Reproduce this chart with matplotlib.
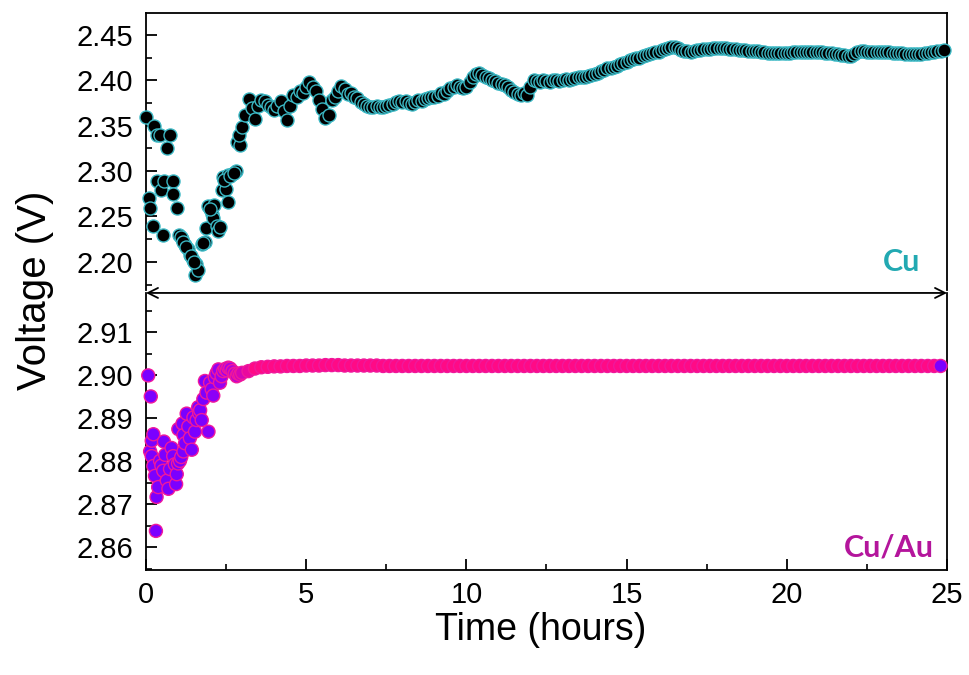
import numpy as np
import matplotlib
matplotlib.use("Agg")
import matplotlib.pyplot as plt
from matplotlib.colors import LinearSegmentedColormap
from matplotlib.ticker import MultipleLocator

# ---- Cu data (hours, volts) ----
# scattered start, read point by point
cu_t_early = [0.00, 0.10, 0.14, 0.21, 0.25, 0.33, 0.33, 0.44, 0.46, 0.52,
              0.56, 0.67, 0.75, 0.85, 0.85, 0.96, 1.04, 1.11, 1.22, 1.30,
              1.37, 1.46, 1.53, 1.56, 1.63, 1.74, 1.84, 1.87, 1.95, 2.05,
              2.10, 2.12, 2.21, 2.26, 2.36, 2.39, 2.50, 2.57, 2.57, 2.67,
              2.81, 2.83, 2.94, 1.08, 1.16, 1.26, 1.41, 1.50, 1.79, 2.00,
              2.30, 2.45, 2.62, 2.75, 2.89]
cu_v_early = [2.359, 2.270, 2.259, 2.240, 2.350, 2.340, 2.289, 2.340, 2.279, 2.230,
              2.289, 2.325, 2.340, 2.289, 2.275, 2.259, 2.230, 2.225, 2.219, 2.214,
              2.208, 2.202, 2.185, 2.198, 2.191, 2.220, 2.222, 2.237, 2.262, 2.253,
              2.248, 2.263, 2.240, 2.234, 2.279, 2.293, 2.280, 2.266, 2.296, 2.297,
              2.300, 2.332, 2.329, 2.227, 2.222, 2.216, 2.206, 2.200, 2.221, 2.258,
              2.238, 2.290, 2.294, 2.298, 2.340]
# from 3.0 h on, one reading every 0.1 h
cu_t0, cu_dt = 3.0, 0.1
cu_v_late = [
    2.349, 2.362, 2.379, 2.369, 2.357, 2.372, 2.378, 2.377, 2.373, 2.370,
    2.367, 2.372, 2.377, 2.366, 2.356, 2.372, 2.384, 2.382, 2.388, 2.386,
    2.392, 2.398, 2.393, 2.388, 2.378, 2.368, 2.358, 2.362, 2.378, 2.382,
    2.388, 2.394, 2.390, 2.385, 2.386, 2.382, 2.380, 2.376, 2.374, 2.372,
    2.371, 2.370, 2.372, 2.371, 2.370, 2.372, 2.373, 2.374, 2.376, 2.377,
    2.376, 2.377, 2.375, 2.374, 2.376, 2.378, 2.377, 2.379, 2.380, 2.382,
    2.381, 2.383, 2.386, 2.385, 2.388, 2.391, 2.393, 2.395, 2.393, 2.391,
    2.393, 2.398, 2.403, 2.407, 2.408, 2.406, 2.404, 2.402, 2.400, 2.399,
    2.397, 2.396, 2.395, 2.392, 2.389, 2.387, 2.385, 2.384, 2.386, 2.384,
    2.392, 2.400, 2.399, 2.398, 2.400, 2.399, 2.398, 2.400, 2.400, 2.399,
    2.400, 2.401, 2.400, 2.401, 2.402, 2.403, 2.404, 2.404, 2.405, 2.406,
    2.407, 2.408, 2.410, 2.411, 2.413, 2.414, 2.415, 2.416, 2.418, 2.419,
    2.420, 2.422, 2.423, 2.424, 2.425, 2.427, 2.428, 2.429, 2.430, 2.431,
    2.431, 2.433, 2.434, 2.436, 2.437, 2.437, 2.435, 2.433, 2.432, 2.432,
    2.431, 2.432, 2.433, 2.433, 2.434, 2.434, 2.434, 2.435, 2.435, 2.435,
    2.435, 2.435, 2.434, 2.434, 2.434, 2.433, 2.433, 2.433, 2.432, 2.432,
    2.432, 2.432, 2.431, 2.431, 2.430, 2.430, 2.430, 2.430, 2.430, 2.430,
    2.430, 2.430, 2.431, 2.431, 2.431, 2.431, 2.431, 2.431, 2.431, 2.431,
    2.431, 2.431, 2.430, 2.430, 2.430, 2.429, 2.429, 2.428, 2.428, 2.427,
    2.427, 2.429, 2.431, 2.432, 2.432, 2.431, 2.431, 2.431, 2.431, 2.431,
    2.431, 2.431, 2.431, 2.430, 2.430, 2.430, 2.430, 2.429, 2.429, 2.429,
    2.429, 2.429, 2.429, 2.430, 2.430, 2.431, 2.431, 2.432, 2.432, 2.433,
]

# ---- Cu/Au data ----
cuau_t_early = [0.07, 0.15, 0.23, 0.18, 0.13, 0.18, 0.23, 0.28, 0.38, 0.33,
                0.31, 0.56, 0.44, 0.54, 0.65, 0.70, 0.80, 0.85, 0.90, 0.96,
                0.94, 1.06, 1.17, 1.01, 1.17, 1.14, 1.27, 1.32, 1.37, 1.43,
                1.53, 1.58, 1.63, 1.69, 1.74, 1.79, 1.84, 1.89, 1.95, 2.00,
                2.05, 2.10, 2.15, 2.26, 2.31, 2.36, 2.41, 2.57, 2.83, 2.94,
                0.48, 0.60, 0.75, 1.00, 1.10, 1.22, 1.48, 1.66, 2.20, 2.47,
                2.52, 2.63, 2.70, 2.77, 2.88]
cuau_v_early = [2.9000, 2.8951, 2.8863, 2.8848, 2.8823, 2.8812, 2.8789, 2.8766, 2.8740, 2.8717,
                2.8638, 2.8846, 2.8801, 2.8778, 2.8755, 2.8736, 2.8831, 2.8812, 2.8793, 2.8770,
                2.8747, 2.8801, 2.8823, 2.8875, 2.8861, 2.8888, 2.8911, 2.8881, 2.8854, 2.8827,
                2.8869, 2.8896, 2.8926, 2.8919, 2.8896, 2.8945, 2.8987, 2.8960, 2.8869, 2.8983,
                2.8968, 2.8953, 2.8995, 2.9014, 2.8983, 2.8998, 2.9010, 2.9018, 2.8998, 2.9002,
                2.8790, 2.8815, 2.8782, 2.8795, 2.8810, 2.8842, 2.8902, 2.8912, 2.9005, 2.9015,
                2.9012, 2.9016, 2.9010, 2.9004, 2.9004]
cuau_t0, cuau_dt = 3.0, 0.2
cuau_v_late = [
    2.9006, 2.9010, 2.9016, 2.9019, 2.9020, 2.9021, 2.9021, 2.9022, 2.9022, 2.9022,
    2.9023, 2.9023, 2.9023, 2.9024, 2.9024, 2.9024, 2.9023, 2.9023, 2.9023, 2.9023,
    2.9023, 2.9023, 2.9022, 2.9022, 2.9022, 2.9022, 2.9022, 2.9022, 2.9022, 2.9022,
    2.9022, 2.9022, 2.9022, 2.9022, 2.9022, 2.9022, 2.9022, 2.9022, 2.9022, 2.9022,
    2.9022, 2.9022, 2.9022, 2.9022, 2.9022, 2.9022, 2.9022, 2.9022, 2.9022, 2.9022,
    2.9022, 2.9022, 2.9022, 2.9022, 2.9022, 2.9022, 2.9022, 2.9022, 2.9022, 2.9022,
    2.9022, 2.9022, 2.9022, 2.9022, 2.9022, 2.9022, 2.9022, 2.9022, 2.9022, 2.9022,
    2.9022, 2.9022, 2.9022, 2.9022, 2.9022, 2.9022, 2.9022, 2.9022, 2.9022, 2.9022,
    2.9022, 2.9022, 2.9022, 2.9022, 2.9022, 2.9022, 2.9022, 2.9022, 2.9022, 2.9022,
    2.9022, 2.9022, 2.9022, 2.9022, 2.9022, 2.9022, 2.9022, 2.9022, 2.9022, 2.9022,
    2.9022, 2.9022, 2.9022, 2.9022, 2.9022, 2.9022, 2.9022, 2.9022, 2.9022, 2.9022,
]

x_ticks = [0, 5, 10, 15, 20, 25]
cu_yticks = [2.20, 2.25, 2.30, 2.35, 2.40, 2.45]
cuau_yticks = [2.86, 2.87, 2.88, 2.89, 2.90, 2.91]

# combine
cu_t = np.concatenate([cu_t_early, cu_t0 + cu_dt * np.arange(len(cu_v_late))])
cu_v = np.concatenate([cu_v_early, cu_v_late])
cuau_t = np.concatenate([cuau_t_early, cuau_t0 + cuau_dt * np.arange(len(cuau_v_late))])
cuau_v = np.concatenate([cuau_v_early, cuau_v_late])

plt.rcParams['font.family'] = ['Liberation Sans', 'DejaVu Sans']

fig = plt.figure(figsize=(9.7, 6.75), dpi=100)
ax1 = fig.add_axes([0.1505, 0.5704, 0.8258, 0.4103])
ax2 = fig.add_axes([0.1505, 0.1556, 0.8258, 0.4104])

ms = 88
ax1.scatter(cu_t, cu_v, s=ms, c='black', edgecolors='#3BB8C4', linewidths=1.0, zorder=3, clip_on=False)

# purple -> pink fill along time
pp = LinearSegmentedColormap.from_list('pp', ['#7B00FF', '#A800E8', '#FF0A86'])
cols = pp(np.clip((cuau_t - 1.8) / 1.6, 0, 1))
cols[-1] = pp(0.0)
order = np.argsort(cuau_t, kind='stable')
ax2.scatter(cuau_t[order], cuau_v[order], s=ms, c=cols[order], edgecolors='#F0189C',
            linewidths=1.0, zorder=3, clip_on=False)

for ax in (ax1, ax2):
    ax.set_xlim(0, 25)
    ax.tick_params(direction='in', length=8, width=1.3, labelsize=21, pad=6)
    ax.tick_params(which='minor', direction='in', length=4.5, width=1.2)
    ax.tick_params(axis='y', pad=9)
    for sp in ax.spines.values():
        sp.set_linewidth(1.3)

ax1.set_ylim(2.169, 2.474)
ax1.set_yticks(cu_yticks)
ax1.yaxis.set_minor_locator(MultipleLocator(0.025))
ax1.set_yticklabels([f'{v:.2f}' for v in cu_yticks])
ax1.set_xticks([])
ax1.spines['bottom'].set_visible(False)

ax2.set_ylim(2.8547, 2.9192)
ax2.set_yticks(cuau_yticks)
ax2.yaxis.set_minor_locator(MultipleLocator(0.005))
ax2.set_yticklabels([f'{v:.2f}' for v in cuau_yticks])
ax2.set_xticks(x_ticks)
ax2.xaxis.set_minor_locator(MultipleLocator(2.5))
ax2.spines['top'].set_visible(False)
ax2.tick_params(axis='x', pad=8)

# double arrow between panels
ax2.annotate('', xy=(0, 1.0), xytext=(25, 1.0), xycoords=('data', 'axes fraction'),
             textcoords=('data', 'axes fraction'),
             arrowprops=dict(arrowstyle='<->', color='black', lw=1.3,
                             mutation_scale=18, shrinkA=0, shrinkB=0), zorder=5)

ax1.text(0.966, 0.10, 'Cu', transform=ax1.transAxes, ha='right', va='center',
         fontsize=22, fontweight='bold', color='#22A9B2', family=['Lato', 'DejaVu Sans'])
ax2.text(0.983, 0.082, 'Cu/Au', transform=ax2.transAxes, ha='right', va='center',
         fontsize=22, fontweight='bold', color='#B4159C', family=['Lato', 'DejaVu Sans'])

fig.text(0.036, 0.57, 'Voltage (V)', rotation=90, ha='center', va='center', fontsize=29)
fig.text(0.557, 0.066, 'Time (hours)', ha='center', va='center', fontsize=27)

fig.savefig('out.png', dpi=100)
